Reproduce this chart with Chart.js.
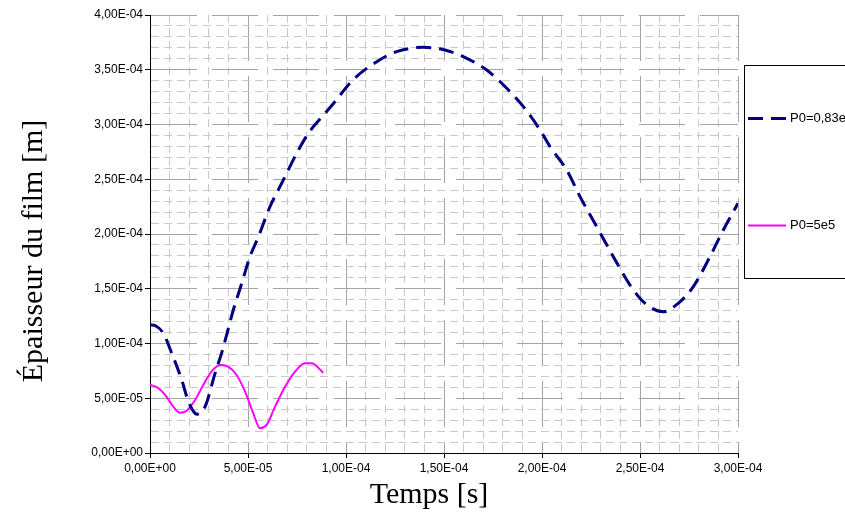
<!DOCTYPE html>
<html><head><meta charset="utf-8">
<script src="https://cdn.jsdelivr.net/npm/chart.js@4/dist/chart.umd.min.js"></script>
<style>html,body{margin:0;padding:0;background:#fff;}#wrap{width:845px;height:518px;position:relative;}</style>
</head><body><div id="wrap"><canvas id="c"></canvas></div>
<script>
// ---- data ----
const seriesLabels = ['P0=0,83e5', 'P0=5e5'];
const timeA  = [0, 0.3e-5, 0.68e-5, 1.11e-5, 1.62e-5, 1.96e-5, 2.30e-5, 2.42e-5, 2.81e-5, 3.32e-5, 3.70e-5, 4.25e-5, 4.68e-5, 5.10e-5, 5.53e-5, 6.12e-5, 6.63e-5, 6.97e-5, 7.57e-5, 8.16e-5, 8.93e-5, 9.35e-5, 10.37e-5, 11.57e-5, 12.58e-5, 13.95e-5, 15.05e-5, 16.16e-5, 17.18e-5, 18.20e-5, 19.05e-5, 19.90e-5, 20.41e-5, 21.26e-5, 21.94e-5, 22.79e-5, 23.64e-5, 24.49e-5, 25.26e-5, 26.19e-5, 26.95e-5, 27.72e-5, 28.57e-5, 29.25e-5, 30.0e-5];
const thickA = [11.7e-5, 11.6e-5, 10.93e-5, 9.10e-5, 6.67e-5, 4.69e-5, 3.62e-5, 3.55e-5, 4.23e-5, 7.28e-5, 9.4e-5, 13.06e-5, 15.50e-5, 17.93e-5, 19.75e-5, 22.49e-5, 24.32e-5, 25.54e-5, 27.67e-5, 29.40e-5, 31.02e-5, 31.90e-5, 34.10e-5, 35.74e-5, 36.65e-5, 37.05e-5, 36.80e-5, 36.04e-5, 34.98e-5, 33.31e-5, 31.63e-5, 29.50e-5, 27.97e-5, 25.84e-5, 23.41e-5, 20.67e-5, 17.93e-5, 15.34e-5, 13.67e-5, 12.90e-5, 13.67e-5, 15.19e-5, 17.93e-5, 20.37e-5, 22.80e-5];
const timeB  = [0, 0.43e-5, 0.77e-5, 1.19e-5, 1.53e-5, 1.87e-5, 2.30e-5, 2.81e-5, 3.23e-5, 3.62e-5, 3.99e-5, 4.42e-5, 4.85e-5, 5.27e-5, 5.61e-5, 5.95e-5, 6.38e-5, 6.89e-5, 7.40e-5, 7.91e-5, 8.25e-5, 8.84e-5];
const thickB = [6.25e-5, 5.91e-5, 5.30e-5, 4.23e-5, 3.68e-5, 3.86e-5, 4.84e-5, 6.51e-5, 7.64e-5, 8.04e-5, 7.88e-5, 7.12e-5, 5.60e-5, 3.62e-5, 2.25e-5, 2.56e-5, 4.23e-5, 6.05e-5, 7.43e-5, 8.19e-5, 8.19e-5, 7.33e-5];
const xTicks = {min: 0, max: 3e-4, step: 1e-5, majorEvery: 5};
const yTicks = {min: 0, max: 4e-4, step: 1e-5, majorEvery: 5};
const xTitle = 'Temps [s]';
const yTitle = 'Épaisseur du film [m]';

// ---- helpers ----
function fmt(v) {
  const s = Number(v).toExponential(2);
  const [m, e] = s.split('e');
  const sign = e[0] === '-' ? '-' : '+';
  const ex = Math.abs(parseInt(e, 10)).toString().padStart(2, '0');
  return m.replace('.', ',') + 'E' + sign + ex;
}
const isMajor = (ctx, every) => ctx.index % every === 0;

function axis(cfg, isX) {
  return {
    type: 'linear',
    min: cfg.min, max: cfg.max,
    afterFit: s => { if (isX) s.height = 65; else s.width = 150; },
    ticks: {
      stepSize: cfg.step, autoSkip: false, maxRotation: 0, minRotation: 0,
      color: '#000', font: {family: 'Liberation Sans', size: 12},
      padding: isX ? 3 : 2,
      callback: (v, i) => (i % cfg.majorEvery === 0 ? fmt(v) : '')
    },
    grid: {
      color: c => isMajor(c, cfg.majorEvery) ? '#a4a4a4' : '#c8c8c8',
      lineWidth: 1,
      tickLength: 5,
      tickColor: c => isMajor(c, cfg.majorEvery) ? '#000' : 'rgba(0,0,0,0)'
    },
    border: {
      display: true, color: '#000', width: 1,
      dash: c => isMajor(c, cfg.majorEvery) ? [46, 15] : [8, 5]
    },
    title: {display: false}
  };
}

// axis titles placed like the original (centred on the whole figure area)
const axisTitles = {
  id: 'axisTitles',
  afterDraw(chart) {
    const ctx = chart.ctx;
    ctx.save();
    ctx.fillStyle = '#000';
    ctx.font = '30px "Liberation Serif"';
    ctx.textAlign = 'center'; ctx.textBaseline = 'middle';
    ctx.fillText(xTitle, 429, 495);
    ctx.translate(34, 251); ctx.rotate(-Math.PI / 2);
    ctx.fillText(yTitle, 0, 0);
    ctx.restore();
  }
};

const legendBox = {
  id: 'legendBox',
  afterDraw(chart) {
    const ctx = chart.ctx;
    const left = 744, top = 65, h = 213;
    ctx.save();
    ctx.strokeStyle = '#000'; ctx.lineWidth = 1; ctx.setLineDash([]);
    ctx.strokeRect(left + 0.5, top + 0.5, 130, h);
    const ds = chart.data.datasets;
    ds.forEach((d, i) => {
      const y = Math.round(top + h * (i * 2 + 1) / (ds.length * 2)) + 0.5;
      ctx.beginPath();
      ctx.strokeStyle = d.borderColor; ctx.lineWidth = d.borderWidth;
      ctx.setLineDash(d.borderDash || []);
      ctx.moveTo(748, y); ctx.lineTo(786, y); ctx.stroke();
      ctx.setLineDash([]);
      ctx.fillStyle = '#000'; ctx.font = '13px "Liberation Sans"';
      ctx.textBaseline = 'middle'; ctx.textAlign = 'left';
      ctx.fillText(d.label, 790, y);
    });
    ctx.restore();
  }
};

const zip = (xs, ys) => xs.map((x, i) => ({x, y: ys[i]}));

new Chart(document.getElementById('c'), {
  type: 'line',
  data: {
    datasets: [
      {label: seriesLabels[0], data: zip(timeA, thickA), borderColor: '#000080', borderWidth: 3,
       borderDash: [15, 8], pointRadius: 0, fill: false, cubicInterpolationMode: 'monotone'},
      {label: seriesLabels[1], data: zip(timeB, thickB), borderColor: '#ff00ff', borderWidth: 2,
       pointRadius: 0, fill: false, cubicInterpolationMode: 'monotone'}
    ]
  },
  options: {
    responsive: true, maintainAspectRatio: false, animation: false, devicePixelRatio: 1,
    layout: {padding: {left: 0, right: 107, top: 15, bottom: 0}},
    plugins: {legend: {display: false}, tooltip: {enabled: false}},
    scales: {x: axis(xTicks, true), y: axis(yTicks, false)}
  },
  plugins: [legendBox, axisTitles]
});
</script></body></html>
